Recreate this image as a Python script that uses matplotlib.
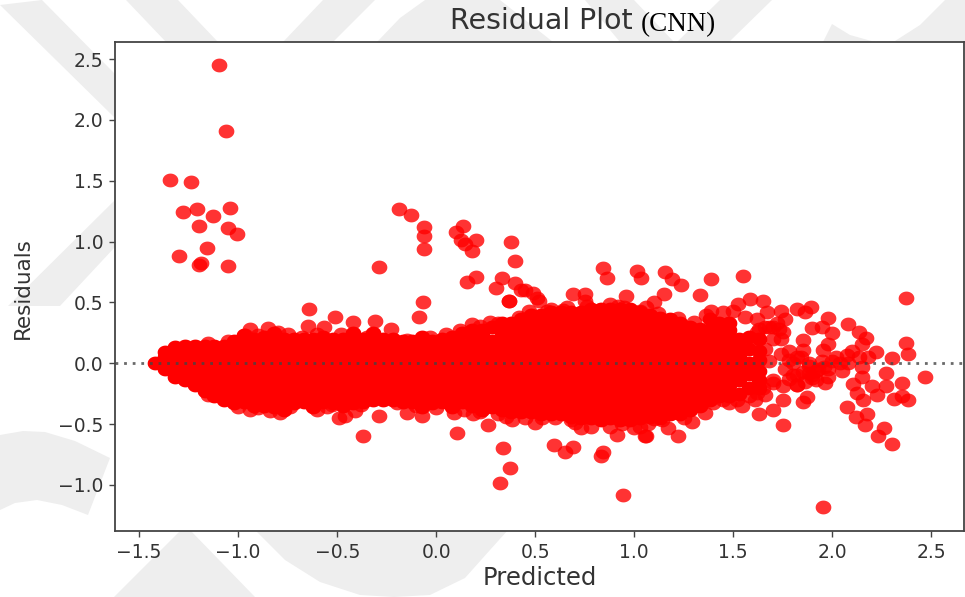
import matplotlib
matplotlib.use("Agg")
import matplotlib.pyplot as plt
from matplotlib.patches import Polygon
from matplotlib.path import Path
import numpy as np

title_main = "Residual Plot"
title_model = "(CNN)"
x_label = "Predicted"
y_label = "Residuals"
x_ticks = [-1.5, -1.0, -0.5, 0.0, 0.5, 1.0, 1.5, 2.0, 2.5]
y_ticks = [-1.0, -0.5, 0.0, 0.5, 1.0, 1.5, 2.0, 2.5]

band_x = [-1.42,-1.37,-1.32,-1.27,-1.22,-1.17,-1.12,-1.07,-1.02,-.97,-.92,-.87,-.82,-.77,-.72,-.67,
          -.62,-.57,-.52,-.47,-.42,-.37,-.32,-.27,-.22,-.17,-.12,-.07,-.02,.03,.08,.13,.18,.23,.28,.33,
          .38,.43,.48,.53,.58,.63,.68,.73,.78,.83,.88,.93,.98,1.03,1.08,1.13,1.18,1.23,1.28,1.33,1.38,
          1.43,1.48,1.53,1.58,1.63]
band_y = [
 [.0],
 [.09,.05,-.05],
 [.13,.09,.0,-.09,-.11],
 [.14,.05,-.05,-.14],
 [.14,.09,.0,-.09,-.18],
 [.14,.05,-.05,-.14,-.23],
 [.14,.09,.0,-.09,-.18,-.27],
 [.14,.05,-.05,-.14,-.23,-.3],
 [.18,.09,.0,-.09,-.18,-.27,-.33],
 [.23,.14,.05,-.05,-.14,-.23,-.32],
 [.2,.09,.0,-.09,-.18,-.27,-.35],
 [.22,.14,.05,-.05,-.14,-.23,-.32,-.35],
 [.25,.18,.09,.0,-.09,-.18,-.27,-.36],
 [.2,.14,.05,-.05,-.14,-.23,-.32,-.38],
 [.2,.09,.0,-.09,-.18,-.27,-.33],
 [.2,.14,.05,-.05,-.14,-.23,-.32],
 [.2,.09,.0,-.09,-.18,-.27,-.36],
 [.22,.14,.05,-.05,-.14,-.23,-.32],
 [.2,.09,.0,-.09,-.18,-.27,-.33],
 [.2,.14,.05,-.05,-.14,-.23,-.32,-.35],
 [.25,.18,.09,.0,-.09,-.18,-.27,-.33],
 [.2,.14,.05,-.05,-.14,-.23,-.32],
 [.25,.18,.09,.0,-.09,-.18,-.27,-.3],
 [.2,.14,.05,-.05,-.14,-.23,-.3],
 [.2,.09,.0,-.09,-.18,-.27,-.3],
 [.18,.14,.05,-.05,-.14,-.23,-.32],
 [.18,.09,.0,-.09,-.18,-.27,-.32],
 [.22,.14,.05,-.05,-.14,-.23,-.32,-.36],
 [.18,.09,.0,-.09,-.18,-.27,-.33],
 [.2,.14,.05,-.05,-.14,-.23,-.32],
 [.22,.18,.09,.0,-.09,-.18,-.27,-.36],
 [.25,.14,.05,-.05,-.14,-.23,-.32],
 [.27,.18,.09,.0,-.09,-.18,-.27,-.35],
 [.27,.23,.14,.05,-.05,-.14,-.23,-.32,-.38],
 [.3,.18,.09,.0,-.09,-.18,-.27,-.36],
 [.33,.23,.14,.05,-.05,-.14,-.23,-.32,-.38],
 [.33,.27,.18,.09,.0,-.09,-.18,-.27,-.36,-.4],
 [.36,.32,.23,.14,.05,-.05,-.14,-.23,-.32,-.4],
 [.4,.36,.27,.18,.09,.0,-.09,-.18,-.27,-.36,-.4],
 [.4,.32,.23,.14,.05,-.05,-.14,-.23,-.32,-.42],
 [.42,.36,.27,.18,.09,.0,-.09,-.18,-.27,-.36,-.42],
 [.42,.32,.23,.14,.05,-.05,-.14,-.23,-.32,-.42],
 [.42,.36,.27,.18,.09,.0,-.09,-.18,-.27,-.36,-.44],
 [.42,.32,.23,.14,.05,-.05,-.14,-.23,-.32,-.41,-.45],
 [.45,.36,.27,.18,.09,.0,-.09,-.18,-.27,-.36,-.45],
 [.45,.41,.32,.23,.14,.05,-.05,-.14,-.23,-.32,-.41,-.47],
 [.45,.36,.27,.18,.09,.0,-.09,-.18,-.27,-.36,-.45],
 [.45,.41,.32,.23,.14,.05,-.05,-.14,-.23,-.32,-.41,-.47],
 [.45,.36,.27,.18,.09,.0,-.09,-.18,-.27,-.36,-.47],
 [.42,.32,.23,.14,.05,-.05,-.14,-.23,-.32,-.41,-.45],
 [.4,.36,.27,.18,.09,.0,-.09,-.18,-.27,-.36,-.44],
 [.37,.32,.23,.14,.05,-.05,-.14,-.23,-.32,-.41,-.45],
 [.36,.27,.18,.09,.0,-.09,-.18,-.27,-.36,-.42],
 [.33,.23,.14,.05,-.05,-.14,-.23,-.32,-.42],
 [.3,.27,.18,.09,.0,-.09,-.18,-.27,-.36,-.38],
 [.28,.23,.14,.05,-.05,-.14,-.23,-.32,-.35],
 [.36,.27,.18,.09,.0,-.09,-.18,-.27,-.3],
 [.33,.23,.14,.05,-.05,-.14,-.23,-.27],
 [.33,.27,.18,.09,.0,-.09,-.18,-.27],
 [.2,.14,.05,-.05,-.14,-.25],
 [.22,.12,.0,-.09,-.2],
 [.2,.1,.03,-.06,-.14,-.2],
]

# individually visible points
outlier_x = [-1.095,-1.06,-1.345,-1.24,-1.28,-1.21,-1.04,-1.125,-1.20,-1.05,-1.005,-1.155,-1.30,-1.20,-1.19,-1.05,
             -.19,-.125,-.06,-.06,-.06,-.29,-.065,-.085,.135,.10,.125,.20,.145,.18,.20,.155,.38,.40,.33,.30,.40,.365,.37,.43,.51,
             .32,.335,.375,.945,1.955,.83,.84,.595,.69,.65,.915,1.055,1.17,1.22,
             -.64,-.51,-.645,-.565,-.42,-.31,-.23,.18,.31,-.94,-.85,-.80,-.965,
             -.94,-.84,-.79,-.65,-.525,-.49,-.46,-.41,-.38,-.29,-.37,-.15,-.07,.09,.105,.185,.26,.31,.385,.45,
             .84,.86,1.015,1.035,1.157,1.19,1.235,1.39,1.55,1.33,2.37,.69,.75,.75,.52,.45,.49,.96,1.15,1.10,.95,.56,.64,.82,1.03,
             1.39,1.525,1.585,1.65,1.67,1.74,1.76,1.82,1.86,1.89,1.98,1.90,1.95,2.0,2.08,2.135,2.17,2.15,1.85,1.98,1.955,1.85,
             2.37,2.38,2.30,2.22,2.18,2.075,2.04,2.135,2.47,2.27,2.35,2.27,2.31,2.35,2.38,2.225,2.20,2.105,2.15,2.15,2.125,2.155,
             2.075,2.175,2.12,2.165,2.26,2.23,2.30,1.98,1.965,1.87,1.85,1.75,1.75,1.70,1.63,1.61,1.545,1.65,1.75,1.06,1.03,1.29,
             1.355,1.19,1.10,.965,.73,.68,.535,
             1.68,1.72,1.70,1.75,1.66,1.62,1.68,1.74,1.78,1.8,1.84,1.88,1.92,1.95,1.9,1.86,1.8,1.76,1.82,1.88,1.92,1.7,1.66,1.98,2.05,2.1,
             1.45,1.5,1.56,1.62,1.66,1.7,1.73,1.74,1.63,1.45,1.48,1.52,1.58,1.62,1.7,1.78,1.82,1.85,1.9,1.82,1.78,1.82,1.88,1.93,1.96,2.0,2.02,2.08,
             -1.15,-1.05,-.9,-.75,-.68,-.6,-.48,-.35,-.15,-.03,.05,.12,.22,.27,.42,.47,.58,.66,.76,.88,.92,1.06,1.12,1.22,1.3,1.36,
             -1.15,-1.0,-.9,-.74,-.6,-.55,-.2,-.1,.0,.14,.22,.35,.5,.6,.7,.78,.88,.94,1.0,1.07,1.14,1.25,1.4]
outlier_y = [2.45,1.91,1.51,1.49,1.24,1.27,1.28,1.21,1.13,1.11,1.06,.95,.88,.81,.82,.80,
             1.265,1.22,1.12,1.045,.94,.79,.50,.38,1.13,1.08,1.01,1.01,.98,.92,.71,.67,1.0,.84,.70,.62,.66,.51,.51,.60,.54,
             -.98,-.70,-.86,-1.085,-1.18,-.76,-.73,-.67,-.69,-.73,-.59,-.60,-.53,-.60,
             .45,.38,.31,.30,.34,.35,.28,.32,.33,.28,.29,.26,.23,
             -.38,-.39,-.41,-.30,-.34,-.45,-.43,-.39,-.34,-.43,-.60,-.41,-.43,-.41,-.57,-.42,-.51,-.42,-.47,-.45,
             .78,.70,.76,.70,.75,.69,.64,.69,.72,.56,.54,.57,.57,.51,.51,.60,.58,.55,.57,.50,.46,.43,.44,.44,.43,
             .43,.49,.53,.51,.42,.43,.36,.45,.42,.46,.37,.29,.30,.25,.32,.26,.21,.16,.19,.16,.11,.11,
             .17,.08,.04,.09,.05,.07,.0,.05,-.11,-.08,-.165,-.19,-.29,-.27,-.30,-.26,-.19,-.17,-.11,-.03,-.24,-.30,
             -.36,-.42,-.44,-.51,-.53,-.60,-.66,-.115,-.165,-.28,-.32,-.30,-.51,-.38,-.42,-.30,-.35,-.20,-.19,-.60,-.52,-.48,
             -.41,-.41,-.46,-.46,-.53,-.47,-.45,
             .3,.33,.2,.26,.12,.26,.02,.08,.1,.0,.05,-.02,-.06,.02,-.1,-.15,-.1,-.05,-.18,-.08,-.14,-.14,-.26,-.05,-.06,.1,
             .42,.43,.38,.36,.3,.3,.28,.2,.28,-.3,-.33,-.3,-.27,-.24,-.16,-.13,-.1,-.07,-.12,-.18,.03,.05,.0,-.05,-.03,.02,.05,.0,
             .17,.18,.23,.24,.22,.24,.24,.22,.19,.22,.24,.27,.31,.34,.38,.43,.45,.46,.47,.49,.47,.46,.41,.37,.34,.4,
             -.26,-.36,-.37,-.36,-.38,-.36,-.33,-.35,-.37,-.38,-.4,-.44,-.49,-.45,-.49,-.52,-.52,-.5,-.53,-.5,-.47,-.45,-.33]

# pale watermark shapes behind the plot, in image pixels
wm_shapes = [
    [(0,5),(42,0),(115,74),(115,118)],
    [(8,306),(60,306),(115,247),(115,200)],
    [(0,435),(23,431),(45,432),(75,441),(110,458),(88,515),(62,505),(37,500),(15,503),(0,510)],
    [(126,0),(178,0),(218,42),(166,42)],
    [(323,0),(375,0),(333,42),(283,42)],
    [(377,42),(400,18),(425,0),(500,0),(553,42)],
    [(585,0),(634,0),(674,42),(620,42)],
    [(720,0),(772,0),(729,42),(677,42)],
    [(823,42),(832,24),(850,35),(875,42),(895,41),(920,25),(945,0),(965,0),(965,42)],
    [(181,530),(190,530),(255,597),(114,597)],
    [(255,530),(285,560),(320,582),(360,595),(394,597),(430,595),(465,578),(490,550),(508,530)],
]

W, H = 965, 597
fig = plt.figure(figsize=(W/100, H/100), dpi=100, facecolor="white")
for poly in wm_shapes:
    fig.add_artist(Polygon([(px/W, 1-py/H) for px, py in poly], closed=True,
                           transform=fig.transFigure, fc="#eeeeee", ec="none", zorder=-5))

ax = fig.add_axes([115/W, 1-531/H, (964-115)/W, (531-42)/H])
ax.set_facecolor("white")

# markers are slightly wider than tall in the reference
t = np.linspace(0, 2*np.pi, 41)
ellipse = Path(np.c_[np.cos(t), 0.88*np.sin(t)], closed=True)

band_xs = [x for x, col in zip(band_x, band_y) for _ in col]
band_ys = [y for col in band_y for y in col]
ax.scatter(band_xs, band_ys, s=128, marker=ellipse, c="#ff0000", alpha=1.0, linewidths=0, zorder=2)
ax.scatter(outlier_x, outlier_y, s=128, marker=ellipse, c="#ff0000", alpha=0.8, linewidths=0, zorder=2)
ax.axhline(0, color="#444444", lw=2.0, ls=(0, (1.0, 2.1)), alpha=0.8, zorder=3)

ax.set_xlim(-1.622, 2.665)
ax.set_ylim(-1.378, 2.64)
ax.set_xticks(x_ticks)
ax.set_yticks(y_ticks)
ax.tick_params(labelsize=13.5, length=4.5, width=1.0, color="#444444", labelcolor="#333333", pad=4)
for s in ax.spines.values():
    s.set_color("#444444")
    s.set_linewidth(1.3)

fig.text(541/W, 1-21/H, title_main, ha="center", va="center", fontsize=20.5, color="#333333")
fig.text(678/W, 1-25/H, title_model, ha="center", va="center", fontsize=19.5,
         family="Liberation Serif", color="black")
fig.text(540/W, 1-578/H, x_label, ha="center", va="center", fontsize=17.5, color="#333333")
fig.text(23/W, 1-288/H, y_label, ha="center", va="center", rotation=90, fontsize=15.5, color="#333333")

fig.savefig("out.png", dpi=100)
